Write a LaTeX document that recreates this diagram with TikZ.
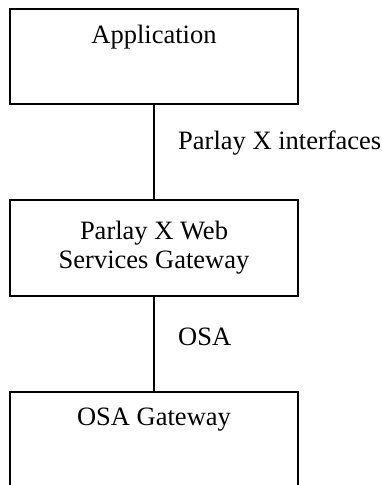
\documentclass[tikz,border=0pt]{standalone}
\usepackage{fontspec}
\setmainfont{Liberation Serif}
\usetikzlibrary{positioning}
\tikzset{every node/.style={inner sep=0pt, font=\fontsize{26.5}{30}\selectfont},
  block/.style={draw, line width=1.5pt, minimum width=288pt, align=center},
  link/.style={line width=2pt}}

\begin{document}
\begin{tikzpicture}[x=1pt,y=-1pt]
   \clip (0,0) rectangle (382,485);
   \node[block, minimum height=95pt] (app) at (154,56.5) {};
   \node (apptext) at (154,37) {Application};
   \node[block, minimum height=96pt] (pxgw) at (154,248) {Parlay X Web\\[-1pt]Services Gateway};
   \node[block, minimum height=186pt] (osagw) at (154,485) {};
   \node (osatext) at (154,420) {OSA Gateway};
   \draw[link] (app) -- (pxgw);
   \draw[link] (pxgw) -- (osagw);
   \node[anchor=west] (pxif) at (178,143) {Parlay X interfaces};
   \node[anchor=west] (osa) at (178,337) {OSA};
\end{tikzpicture}
\end{document}
